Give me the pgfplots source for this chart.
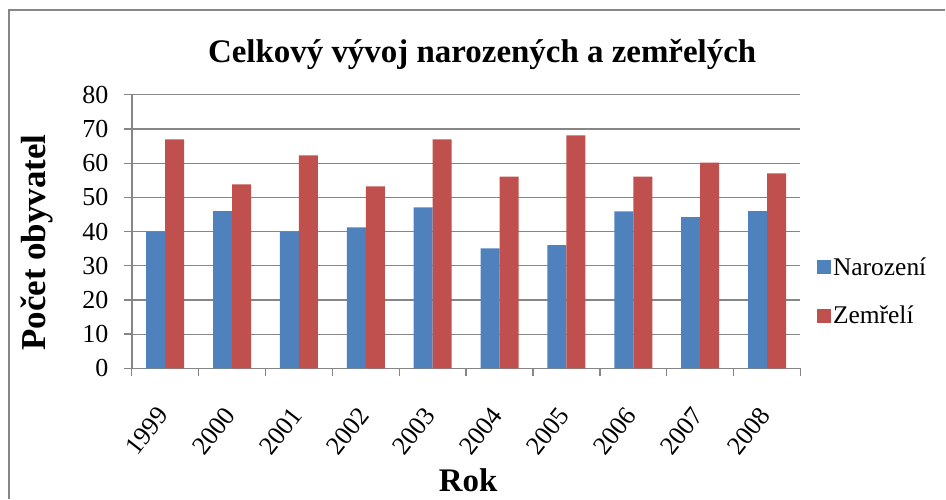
\documentclass[border=0pt]{standalone}
\usepackage{fontspec}
\setmainfont{Liberation Serif}
\usepackage{pgfplots}
\pgfplotsset{compat=1.18}
\definecolor{narblue}{HTML}{4F81BD}
\definecolor{zemred}{HTML}{C0504D}
\definecolor{gridgray}{HTML}{868686}
\begin{document}
\begin{tikzpicture}
% page = 946 x 499 px, axis south west at pixel (132,369)
\path (-132pt,-130pt) rectangle (814pt,369pt);
\draw[gridgray, line width=1.6pt] (-123pt,-131pt) -- (-123pt,359pt) -- (815pt,359pt);
\begin{axis}[
  scale only axis,
  width=670pt, height=274pt,
  ybar=0pt, bar width=19pt,
  xmin=-0.5, xmax=9.5,
  ymin=0, ymax=80,
  ytick={0,10,...,80},
  xtick={0,...,9},
  xticklabels={1999,2000,2001,2002,2003,2004,2005,2006,2007,2008},
  minor xtick={-0.5,0.5,...,9.5},
  major x tick style={draw=none},
  minor x tick style={draw=gridgray, line width=1.3pt},
  minor tick length=8pt,
  major tick length=8pt,
  ytick style={draw=gridgray, line width=1.3pt},
  tick align=outside,
  axis x line*=bottom, axis y line*=left,
  axis line style={draw=gridgray, line width=1.6pt},
  ymajorgrids, grid style={draw=gridgray, line width=1.2pt},
  /pgf/number format/assume math mode=true,
  tick label style={font=\fontsize{26}{29}\selectfont},
  yticklabel style={xshift=-12pt},
  xticklabel style={xshift=-10pt, yshift=-24pt, rotate=52, anchor=north east},
  title={Celkový vývoj narozených a zemřelých},
  title style={font=\bfseries\fontsize{33}{36}\selectfont, at={(axis description cs:0.524,1)}, anchor=south, yshift=16pt},
  ylabel={Počet obyvatel},
  ylabel style={font=\bfseries\fontsize{35}{38}\selectfont, at={(axis description cs:-0.141,0.46)}, anchor=center},
  xlabel={Rok},
  xlabel style={font=\bfseries\fontsize{33}{36}\selectfont, at={(axis description cs:0.503,-0.409)}, anchor=center},
  legend style={draw=none, fill=none, at={(axis description cs:1.02,0.281)}, anchor=west,
    font=\fontsize{25.5}{29}\selectfont, row sep=25pt},
  legend cell align=left,
  legend image code/.code={\fill[#1] (0pt,-7pt) rectangle (14pt,7pt);},
]
\addplot[fill=narblue, draw=none] coordinates {
  (0,40) (1,46) (2,40) (3,41.2) (4,47.1) (5,35.1) (6,36) (7,45.9) (8,44.2) (9,46)
};
\addplot[fill=zemred, draw=none] coordinates {
  (0,67) (1,53.8) (2,62.3) (3,53.2) (4,67) (5,56.1) (6,68.1) (7,56.1) (8,60.2) (9,57)
};
\legend{Narození, Zemřelí}
\end{axis}
\end{tikzpicture}
\end{document}
